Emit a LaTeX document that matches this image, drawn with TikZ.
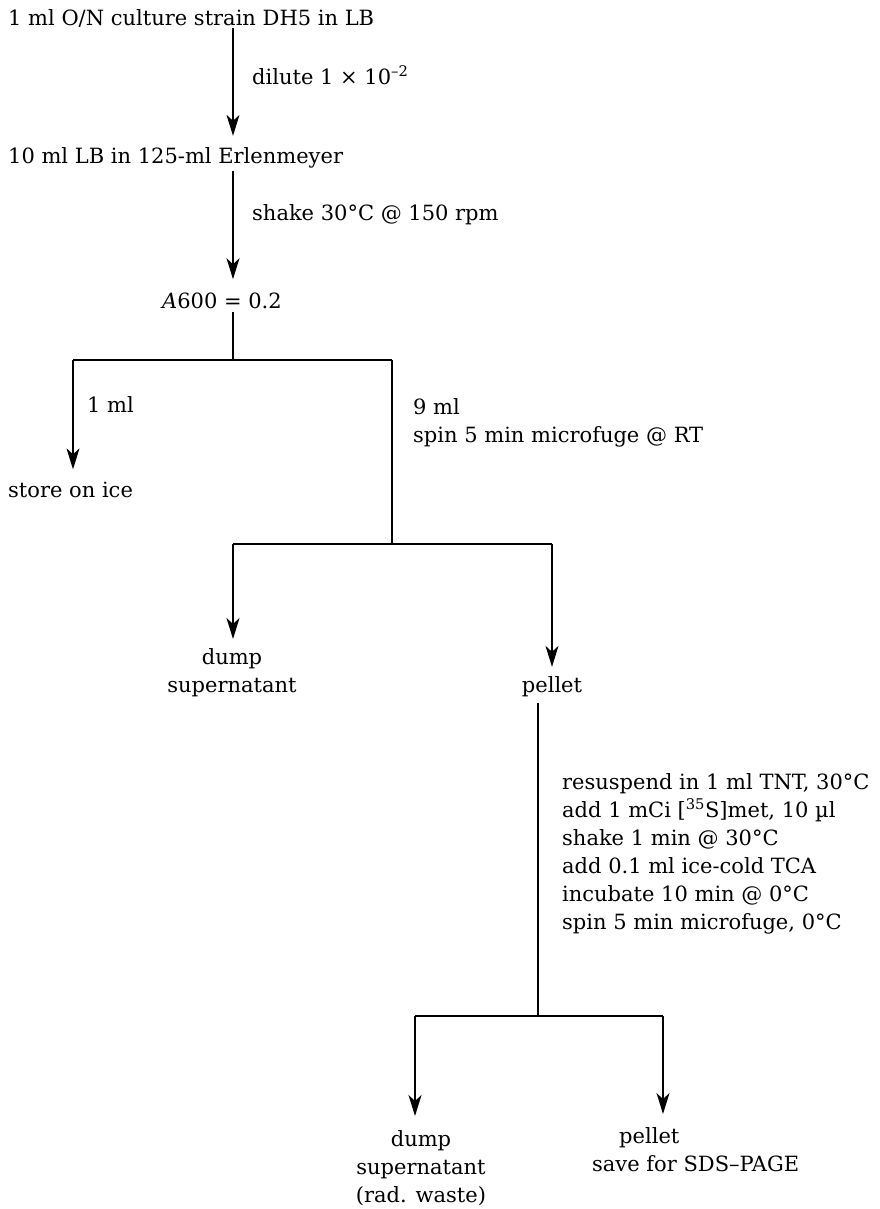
\documentclass[tikz,border=0pt]{standalone}
\usepackage{fontspec}
\setmainfont{DejaVu Serif}
\usetikzlibrary{arrows.meta}
\newcommand{\fsz}{\fontsize{21}{28}\selectfont}
\begin{document}
\begin{tikzpicture}[x=1pt,y=-1pt,
  txt/.style={inner sep=0pt, font=\fsz},
  ln/.style={line width=1.3pt},
  arr/.style={ln,-{Stealth[length=21pt,width=13pt,inset=6pt]}}]
\useasboundingbox (0,0) rectangle (880,1209);
% main nodes
\node[txt,anchor=base west] (t1) at (8,26) {1 ml O/N culture strain DH5 in LB};
\node[txt,anchor=base west] (t2) at (8,164) {10 ml LB in 125-ml Erlenmeyer};
\node[txt,anchor=base] (t3) at (222,308) {\textit{A}600 = 0.2};
\node[txt,anchor=base west] (t4) at (8,497) {store on ice};
\node[txt,anchor=north,align=center] (t5) at (232,648) {dump\\supernatant};
\node[txt,anchor=base] (t6) at (552,692) {pellet};
\node[txt,anchor=north,align=center] (t7) at (421,1130) {dump\\supernatant\\(rad. waste)};
\node[txt,anchor=north west,align=left] (t8) at (592,1127) {\hspace*{27pt}pellet\\save for SDS–PAGE};
% labels
\node[txt,anchor=west] (l1) at (252,75) {dilute 1 × 10\textsuperscript{–2}};
\node[txt,anchor=west] (l2) at (252,215) {shake 30°C @ 150 rpm};
\node[txt,anchor=west] (l3) at (87,405) {1 ml};
\node[txt,anchor=north west,align=left] (l4) at (413,398) {9 ml\\spin 5 min microfuge @ RT};
\node[txt,anchor=north west,align=left] (l5) at (562,773) {resuspend in 1 ml TNT, 30°C\\add 1 mCi [\textsuperscript{35}S]met, 10 µl\\shake 1 min @ 30°C\\add 0.1 ml ice-cold TCA\\incubate 10 min @ 0°C\\spin 5 min microfuge, 0°C};
% coordinates
\coordinate (c1) at (233,0);
\coordinate (j1) at (233,360);
\coordinate (j1l) at (73,360);
\coordinate (j1r) at (392,360);
\coordinate (j2) at (392,544);
\coordinate (j2l) at (233,544);
\coordinate (j2r) at (552,544);
\coordinate (j3) at (538,1016);
\coordinate (j3l) at (415,1016);
\coordinate (j3r) at (663,1016);
% connectors
\draw[arr,shorten >=12pt] (c1 |- t1.south) -- (c1 |- t2.north);
\draw[arr,shorten >=13pt,shorten <=2pt] (c1 |- t2.south) -- (c1 |- t3.north);
\draw[ln,shorten <=4pt] (c1 |- t3.south) -- (j1);
\draw[ln] (j1l) -- (j1r);
\draw[arr,shorten >=12pt] (j1l) -- (j1l |- t4.north);
\draw[ln] (j1r) -- (j2);
\draw[ln] (j2l) -- (j2r);
\draw[arr,shorten >=9pt] (j2l) -- (j2l |- t5.north);
\draw[arr,shorten >=9pt] (j2r) -- (t6.north);
\draw[ln,shorten <=6pt] (j3 |- t6.south) -- (j3);
\draw[ln] (j3l) -- (j3r);
\draw[arr,shorten >=14pt] (j3l) -- (j3l |- t7.north);
\draw[arr,shorten >=13pt] (j3r) -- (j3r |- t8.north);
\end{tikzpicture}
\end{document}
